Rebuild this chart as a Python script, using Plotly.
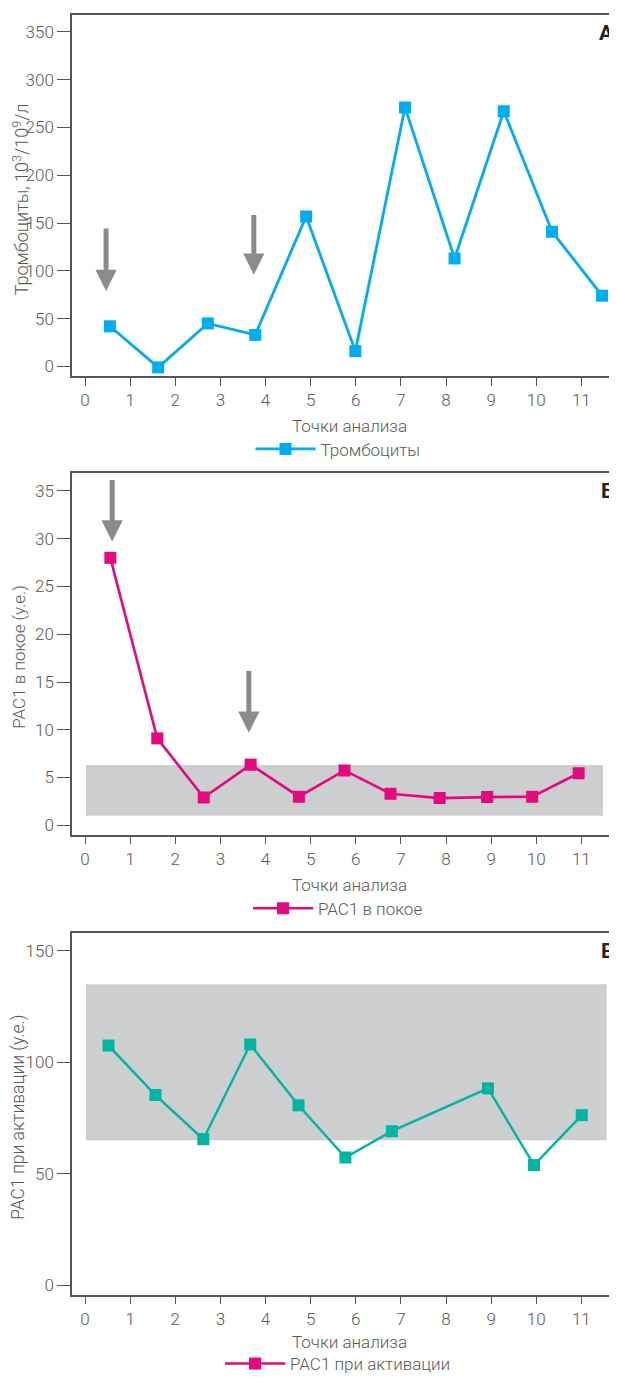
import plotly.graph_objects as go

# ---------------- data ----------------
x_ticks = list(range(0, 12))
x_title = "Точки анализа"

# Panel A – platelets
plt_x = [0.55, 1.62, 2.72, 3.77, 4.90, 5.99, 7.09, 8.19, 9.28, 10.35, 11.46]
plt_y = [42, -1, 45, 33, 157, 16, 271, 113, 267, 141, 74]
plt_name = "Тромбоциты"
plt_title = "Тромбоциты, 10<sup>3</sup>/10<sup>9</sup>/л"
plt_ticks = [0, 50, 100, 150, 200, 250, 300, 350]

# Panel B – PAC1 at rest
rest_x = [0.56, 1.60, 2.63, 3.67, 4.74, 5.75, 6.77, 7.86, 8.91, 9.91, 10.94]
rest_y = [28.0, 9.1, 2.9, 6.35, 3.0, 5.75, 3.3, 2.85, 2.95, 3.0, 5.45]
rest_name = "PAC1 в покое"
rest_title = "PAC1 в покое (у.е.)"
rest_ticks = [0, 5, 10, 15, 20, 25, 30, 35]
rest_band = [1.0, 6.3]
rest_band_x = [0.02, 11.48]

# Panel C – PAC1 on activation
act_x = [0.52, 1.56, 2.62, 3.66, 4.73, 5.77, 6.80, 8.93, 9.95, 11.01]
act_y = [107.5, 85.3, 65.5, 108, 80.7, 57.3, 69.1, 88.3, 53.9, 76.3]
act_name = "PAC1 при активации"
act_title = "PAC1 при активации (у.е.)"
act_ticks = [0, 50, 100, 150]
act_band = [65, 135]
act_band_x = [0.02, 11.56]

# arrows: (x, tip_y, tail_y)
arrows_a = [(0.465, 79, 146), (3.74, 96, 160)]
arrows_b = [(0.60, 29.7, 36.3), (3.63, 9.7, 16.3)]

panel_letters = ["А", "Б", "В"]

# ---------------- style ----------------
OFF = 8                      # default page body margin
KY = 1.008                   # vertical calibration
W, H = 617 - OFF, 1382 - OFF
PL, PR = 72, 617             # plot area left/right in window pixels
ML = PL - OFF
BLUE = "#00ADEE"
PINK = "#E5097F"
TEAL = "#00B5A1"
BAND = "#CDCED0"
GREY_TXT = "#58595B"
AXIS = "#555555"
ARROW = "#8A8B8E"
FONT = "Roboto"

def frac(px):
    """window pixel y -> paper fraction"""
    return 1 - (px * KY - OFF) / H

def xfrac(px):
    """window pixel x -> paper/domain fraction"""
    return (px - PL) / (PR - PL)

domains = [
    [frac(377.3), frac(14.5)],
    [frac(837.7), frac(474.5)],
    [frac(1299.3), frac(936.5)],
]
y_ranges = [[-10.0, 368.2], [-0.98, 36.9], [-4.16, 157.95]]
x_range = [-0.29, 11.79]

fig = go.Figure()

fig.add_trace(go.Scatter(
    x=plt_x, y=plt_y, name=plt_name, mode="lines+markers",
    line=dict(color=BLUE, width=2.8),
    marker=dict(symbol="square", size=12, color=BLUE),
    xaxis="x", yaxis="y", legend="legend"))

fig.add_trace(go.Scatter(
    x=rest_x, y=rest_y, name=rest_name, mode="lines+markers",
    line=dict(color=PINK, width=2.6),
    marker=dict(symbol="square", size=12, color=PINK),
    xaxis="x2", yaxis="y2", legend="legend2"))

fig.add_trace(go.Scatter(
    x=act_x, y=act_y, name=act_name, mode="lines+markers",
    line=dict(color=TEAL, width=2.4),
    marker=dict(symbol="square", size=12, color=TEAL),
    xaxis="x3", yaxis="y3", showlegend=False))

# legend entry for panel C is shown in pink in the original
fig.add_trace(go.Scatter(
    x=[None], y=[None], name=act_name, mode="lines+markers",
    line=dict(color=PINK, width=2.6),
    marker=dict(symbol="square", size=12, color=PINK),
    xaxis="x3", yaxis="y3", legend="legend3"))

tick_font = dict(family=FONT, size=17, color=GREY_TXT, weight=300)

layout = dict(
    width=W, height=H,
    margin=dict(l=ML, r=0, t=0, b=0),
    paper_bgcolor="white", plot_bgcolor="white",
    font=dict(family=FONT, size=17, color=GREY_TXT, weight=300),
)

y_ticks_list = [plt_ticks, rest_ticks, act_ticks]
for i in range(3):
    sx = "" if i == 0 else str(i + 1)
    layout["xaxis" + sx] = dict(
        domain=[0, 1], range=x_range, anchor="y" + sx,
        tickvals=x_ticks, ticks="outside", ticklen=8, tickwidth=1.3,
        tickcolor=AXIS, showline=True, linecolor=AXIS, linewidth=1.5,
        mirror=True, showgrid=False, zeroline=False, tickfont=tick_font,
        fixedrange=True)
    layout["yaxis" + sx] = dict(
        domain=domains[i], range=y_ranges[i], anchor="x" + sx,
        tickvals=y_ticks_list[i], ticks="outside", ticklen=13, tickwidth=1.3,
        tickcolor=AXIS, showline=True, linecolor=AXIS, linewidth=1.5,
        showgrid=False, zeroline=False, tickfont=tick_font, fixedrange=True)

legend_y = [frac(451), frac(912), frac(1369)]
for i, key in enumerate(["legend", "legend2", "legend3"]):
    layout[key] = dict(
        x=xfrac(338), xanchor="center",
        y=legend_y[i], yanchor="middle", yref="paper",
        orientation="h", bgcolor="rgba(0,0,0,0)",
        font=dict(family=FONT, size=17, color=GREY_TXT, weight=300),
        itemwidth=60)

fig.update_layout(**layout)

# bands
fig.add_shape(type="rect", xref="x2", yref="y2",
              x0=rest_band_x[0], x1=rest_band_x[1], y0=rest_band[0], y1=rest_band[1],
              fillcolor=BAND, line=dict(width=0), layer="below")
fig.add_shape(type="rect", xref="x3", yref="y3",
              x0=act_band_x[0], x1=act_band_x[1], y0=act_band[0], y1=act_band[1],
              fillcolor=BAND, line=dict(width=0), layer="below")

# arrows
for (ax_, tip, tail) in arrows_a:
    fig.add_annotation(x=ax_, y=tip, ax=ax_, ay=tail, xref="x", yref="y",
                       axref="x", ayref="y", text="", showarrow=True,
                       arrowhead=2, arrowsize=0.85, arrowwidth=5, arrowcolor=ARROW)
for (ax_, tip, tail) in arrows_b:
    fig.add_annotation(x=ax_, y=tip, ax=ax_, ay=tail, xref="x2", yref="y2",
                       axref="x2", ayref="y2", text="", showarrow=True,
                       arrowhead=2, arrowsize=0.85, arrowwidth=5, arrowcolor=ARROW)

titles = [plt_title, rest_title, act_title]
title_sizes = [18, 17, 17.5]
title_x = [21, 19, 19]
xtitle_shift = [-50, -50, -47]
for i in range(3):
    sx = "" if i == 0 else str(i + 1)
    # y-axis titles
    fig.add_annotation(text=titles[i], textangle=-90, xref="paper",
                       x=xfrac(title_x[i]), xanchor="center",
                       yref="y" + sx + " domain", y=0.5, yanchor="middle",
                       yshift=-4, showarrow=False,
                       font=dict(family=FONT, size=title_sizes[i], color=GREY_TXT, weight=300))
    # x-axis titles
    fig.add_annotation(text=x_title, xref="x" + sx + " domain", x=xfrac(349.5),
                       xanchor="center", yref="y" + sx + " domain", y=0,
                       yanchor="middle", yshift=xtitle_shift[i], showarrow=False,
                       font=dict(family=FONT, size=17, color=GREY_TXT, weight=300))
    # panel letters
    fig.add_annotation(text="<b>" + panel_letters[i] + "</b>", xref="x" + sx + " domain",
                       x=xfrac(616), xanchor="right",
                       yref="y" + sx + " domain", y=1, yanchor="middle", yshift=-18,
                       showarrow=False,
                       font=dict(family=FONT, size=21, color="#231F20"))

fig.write_html("out.html")
